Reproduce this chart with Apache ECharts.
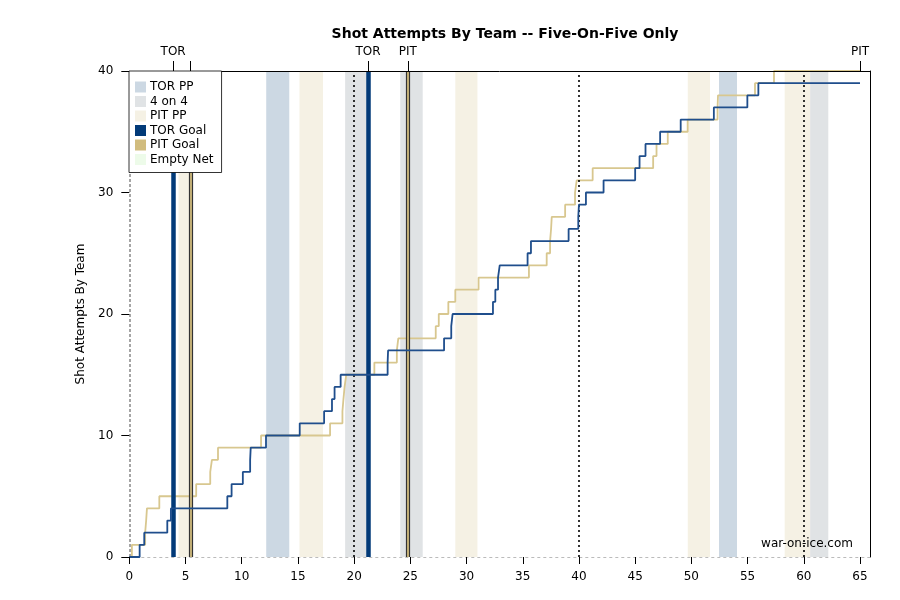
<!DOCTYPE html>
<html>
<head>
<meta charset="utf-8">
<script src="https://cdn.jsdelivr.net/npm/echarts@6/dist/echarts.min.js"></script>
<style>html,body{margin:0;padding:0;background:#fff}#c{width:900px;height:600px}</style>
</head>
<body>
<div id="c"></div>
<script>
// ---- data ----
const torTimes  = [0.92,1.33,3.38,3.70,8.72,9.10,10.10,10.75,10.80,12.16,15.16,17.33,18.03,18.26,18.80,22.98,23.02,28.00,28.64,28.76,32.35,32.56,32.80,32.95,35.43,35.73,39.08,39.94,40.00,40.62,42.19,45.00,45.39,45.92,47.22,49.05,52.00,54.98,55.96];
const torCounts = [1,2,3,4,5,6,7,8,9,10,11,12,13,14,15,16,17,18,19,20,21,22,23,24,25,26,27,28,29,30,31,32,33,34,35,36,37,38,39];
const pitTimes  = [0.23,1.41,1.50,1.57,2.67,5.95,7.20,7.35,7.89,11.72,17.86,18.96,19.05,19.15,19.30,21.80,23.80,23.93,27.26,27.53,28.38,29.00,31.07,35.55,37.13,37.43,37.52,37.58,38.77,39.65,39.80,41.22,46.60,46.90,47.90,49.67,52.33,52.37,55.66,57.35];
const pitCounts = [1,2,3,4,5,6,7,8,9,10,11,12,13,14,15,16,17,18,19,20,21,22,23,24,25,26,27,28,29,30,31,32,33,34,35,36,37,38,39,40];
const gameEnd = 65;
const torPP     = [[12.18,14.23],[52.46,54.06]];
const fourOnFour= [[19.20,21.23],[24.10,26.10],[60.56,62.18]];
const pitPP     = [[4.38,5.45],[15.14,17.23],[29.00,30.97],[49.68,51.66],[58.30,60.56]];
const torGoals  = [3.90,21.23];
const pitGoals  = [5.45,24.78];
const periodEnds= [20,40,60];
const topTicks  = [3.90,5.45,21.23,24.78,65];
const topLabelValues = [3.90,21.23,24.78,65];
const topLabels = ['TOR','TOR','PIT','PIT'];
const xTicks = [0,5,10,15,20,25,30,35,40,45,50,55,60,65];

function steps(times, counts){
  const d=[[0,0]];
  times.forEach((t,i)=>d.push([t,counts[i]]));
  d.push([gameEnd, counts[counts.length-1]]);
  return d;
}
const C = {torPP:'#ccd8e3', four:'#e0e3e5', pitPP:'#f5f1e4', torGoal:'#023a78', pitGoal:'#d1bc7e', empty:'#edfbe9', torLine:'#1f4e8c', pitLine:'#d8c78f'};
const XMAX = 65.89;
const font = 'DejaVu Sans';

const chart = echarts.init(document.getElementById('c'), null, {renderer:'canvas'});
const bandSeries = (name,color,ranges)=>({
  name, type:'line', data:[], xAxisIndex:0, yAxisIndex:0, itemStyle:{color}, z:1, silent:true,
  markArea:{silent:true, itemStyle:{color, opacity:1}, data: ranges.map(r=>[{xAxis:r[0]},{xAxis:r[1]}])}
});
const vlineSeries = (name,color,values,width,type,z)=>({
  name, type:'line', data:[], xAxisIndex:0, yAxisIndex:0, itemStyle:{color}, z, silent:true,
  markLine:{silent:true, symbol:['none','none'], label:{show:false}, animation:false,
    lineStyle:{color, width, type, opacity:1}, data: values.map(v=>({xAxis:v}))}
});

const option = {
  animation:false,
  textStyle:{fontFamily:font},
  title:{text:'Shot Attempts By Team -- Five-On-Five Only', left:500, textAlign:'center', top:22,
    textStyle:{fontFamily:font, fontSize:14, fontWeight:'bold', color:'#000'}},
  legend:{
    orient:'vertical', left:129, top:71, icon:'rect', itemWidth:11, itemHeight:11, itemGap:2.5,
    padding:[10,8,7,6], borderColor:'#000', borderWidth:0.8, backgroundColor:'#fff',
    textStyle:{fontFamily:font, fontSize:12, color:'#000', padding:[0,0,0,-1]},
    data:['TOR PP','4 on 4','PIT PP','TOR Goal','PIT Goal','Empty Net'], z:20, selectedMode:false
  },
  grid:{left:129.3, right:30, top:71, bottom:43, show:false},
  xAxis:[
    {type:'value', min:0, max:XMAX, position:'bottom', z:10,
     axisLine:{show:false}, splitLine:{show:false},
     axisTick:{show:true, length:7, customValues:xTicks, lineStyle:{color:'#000'}},
     axisLabel:{customValues:xTicks, color:'#000', fontFamily:font, fontSize:12, margin:14}},
    {type:'value', min:0, max:XMAX, position:'top', z:10,
     axisLine:{show:true, onZero:false, lineStyle:{color:'#000', width:1}}, splitLine:{show:false},
     axisTick:{show:true, length:10, customValues:topTicks, lineStyle:{color:'#000'}},
     axisLabel:{customValues:topLabelValues, color:'#000', fontFamily:font, fontSize:12, margin:13,
       formatter:v=>{const i=topLabelValues.findIndex(x=>Math.abs(x-v)<1e-6); return i>=0?topLabels[i]:'';}}}
  ],
  yAxis:[
    {type:'value', min:0, max:40, interval:10, position:'left', z:10,
     name:'Shot Attempts By Team', nameLocation:'middle', nameGap:42, nameRotate:90,
     nameTextStyle:{fontFamily:font, fontSize:12, color:'#000'},
     axisLine:{show:false}, splitLine:{show:false},
     axisTick:{show:true, length:8, lineStyle:{color:'#000'}},
     axisLabel:{color:'#000', fontFamily:font, fontSize:12, margin:16}},
    {type:'value', min:0, max:40, position:'right', z:10,
     axisLine:{show:true, onZero:false, lineStyle:{color:'#000', width:1}}, splitLine:{show:false},
     axisTick:{show:false}, axisLabel:{show:false}}
  ],
  series:[
    bandSeries('TOR PP', C.torPP, torPP),
    bandSeries('4 on 4', C.four, fourOnFour),
    bandSeries('PIT PP', C.pitPP, pitPP),
    {name:'Empty Net', type:'line', data:[], itemStyle:{color:C.empty}},
    vlineSeries('zero', '#888', [0], 1.5, [3,2], 2),
    {name:'zeroH', type:'line', data:[], z:2, silent:true,
     markLine:{silent:true, symbol:['none','none'], label:{show:false}, animation:false,
       lineStyle:{color:'#bbb', width:1, type:[3,3], opacity:1}, data:[{yAxis:0}]}},
    vlineSeries('periods', '#000', periodEnds, 1.6, [2,3], 3),
    {name:'TOR', type:'line', step:'end', data:steps(torTimes,torCounts), showSymbol:false, symbol:'none',
     lineStyle:{color:C.torLine, width:1.8}, itemStyle:{color:C.torLine}, z:5},
    {name:'PIT', type:'line', step:'end', data:steps(pitTimes,pitCounts), showSymbol:false, symbol:'none',
     lineStyle:{color:C.pitLine, width:1.8}, itemStyle:{color:C.pitLine}, z:4},
    vlineSeries('TOR Goal', C.torGoal, torGoals, 4.5, 'solid', 7),
    {name:'PIT Goal', type:'line', data:[], itemStyle:{color:C.pitGoal}, z:7, silent:true,
     markLine:{silent:true, symbol:['none','none'], label:{show:false}, animation:false,
       lineStyle:{color:'#333', width:4.2, type:'solid', opacity:1}, data: pitGoals.map(v=>({xAxis:v}))}},
    {name:'PIT Goal inner', type:'line', data:[], itemStyle:{color:C.pitGoal}, z:8, silent:true,
     markLine:{silent:true, symbol:['none','none'], label:{show:false}, animation:false,
       lineStyle:{color:C.pitGoal, width:1.8, type:'solid', opacity:1}, data: pitGoals.map(v=>({xAxis:v}))}}
  ],
  graphic:[
    {type:'text', right:47, top:538, z:20, style:{text:'war-on-ice.com', fontFamily:font, fontSize:12, fill:'#000'}}
  ]
};
chart.setOption(option);
</script>
</body>
</html>
